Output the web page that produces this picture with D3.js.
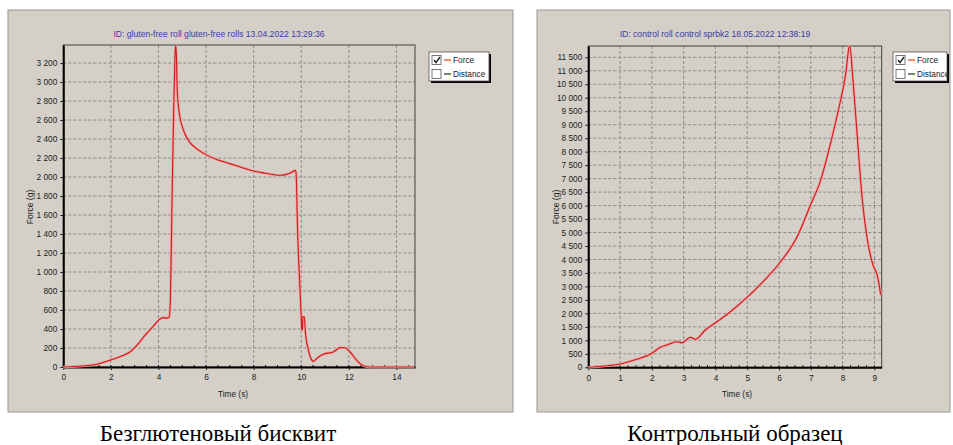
<!DOCTYPE html>
<meta charset="utf-8">
<style>
  body { margin: 0; background: #fff; }
  text { font-family: 'Liberation Sans', Arial, sans-serif; }
</style>
<body>
<script src="https://d3js.org/d3.v7.min.js"></script>
<script>

// left chart: gluten-free roll
var leftTitle = "ID: gluten-free roll  gluten-free rolls 13.04.2022 13:29:36";
var leftCaption = "Безглютеновый бисквит";
var leftTime  = [0, 0.5, 1, 1.5, 2, 2.5, 2.8, 3.1, 3.43, 3.78, 4.06, 4.2, 4.35, 4.45, 4.5, 4.56, 4.63, 4.69, 4.72, 4.75, 4.79, 4.85, 4.9, 5.0, 5.11, 5.3, 5.6, 6.05, 6.5, 7.0, 7.5, 8.05, 8.5, 9.1, 9.38, 9.6, 9.74, 9.78, 9.85, 9.95, 10.0, 10.02, 10.05, 10.07, 10.13, 10.17, 10.3, 10.45, 10.5, 10.7, 10.92, 11.34, 11.5, 11.63, 11.84, 12.05, 12.3, 12.47, 12.75, 13.0, 14.75];
var leftForce = [0, 5, 15, 35, 75, 120, 158, 230, 333, 428, 505, 520, 515, 525, 700, 1600, 2600, 3250, 3390, 3300, 2900, 2720, 2630, 2530, 2456, 2370, 2299, 2228, 2180, 2141, 2100, 2060, 2040, 2018, 2028, 2050, 2070, 2050, 1400, 800, 530, 400, 390, 530, 525, 380, 180, 70, 60, 100, 134, 158, 185, 204, 202, 158, 80, 36, 3, 0, 0];
var leftXTicks = [0, 2, 4, 6, 8, 10, 12, 14];
var leftYTicks = d3.range(0, 3201, 200);

// right chart: control roll
var rightTitle = "ID: control roll control sprbk2 18.05.2022 12:38:19";
var rightCaption = "Контрольный образец";
var rightTime  = [0, 0.53, 1.0, 1.52, 2.0, 2.26, 2.47, 2.79, 2.95, 3.21, 3.37, 3.68, 4.05, 4.47, 5.0, 5.5, 6.05, 6.57, 6.99, 7.31, 7.62, 7.89, 8.1, 8.2, 8.23, 8.31, 8.47, 8.62, 8.78, 8.94, 9.1, 9.2];
var rightForce = [0, 48, 122, 296, 519, 741, 827, 950, 912, 1113, 1039, 1384, 1691, 2062, 2600, 3180, 3917, 4844, 6020, 6947, 8309, 9666, 10905, 11850, 11920, 10905, 8432, 6206, 4722, 3858, 3363, 2682];
var rightXTicks = d3.range(0, 10, 1);
var rightYTicks = d3.range(0, 11501, 500);

var fmt = function(d) { return d3.format(",")(d).replace(/,/g, " "); };

var svg = d3.select("body").append("svg")
    .attr("width", 953)
    .attr("height", 445);

function drawPanel(p) {
  var g = svg.append("g");

  // grey window background
  g.append("rect")
      .attr("x", p.box[0]).attr("y", p.box[1])
      .attr("width", p.box[2] - p.box[0]).attr("height", p.box[3] - p.box[1])
      .attr("fill", "#d4d0c8")
      .attr("stroke", "#9a9892").attr("stroke-width", 1);

  var x = d3.scaleLinear().domain(p.xDomain).range([p.plot[0], p.plot[2]]);
  var y = d3.scaleLinear().domain(p.yDomain).range([p.plot[3], p.plot[1]]);

  // grid
  g.selectAll(".gx").data(p.xTicks.filter(function(d) { return d > 0; }))
    .enter().append("line")
      .attr("x1", function(d) { return x(d); }).attr("x2", function(d) { return x(d); })
      .attr("y1", p.plot[1]).attr("y2", p.plot[3])
      .attr("stroke", "#8a8a8a").attr("stroke-dasharray", "3,2");
  g.selectAll(".gy").data(p.yTicks.filter(function(d) { return d > 0; }))
    .enter().append("line")
      .attr("x1", p.plot[0]).attr("x2", p.plot[2])
      .attr("y1", function(d) { return y(d); }).attr("y2", function(d) { return y(d); })
      .attr("stroke", "#8a8a8a").attr("stroke-dasharray", "3,2");

  // frame (top/right thin)
  g.append("rect")
      .attr("x", p.plot[0]).attr("y", p.plot[1])
      .attr("width", p.plot[2] - p.plot[0]).attr("height", p.plot[3] - p.plot[1])
      .attr("fill", "none").attr("stroke", "#404040").attr("stroke-width", 1);

  // axes
  var xa = g.append("g")
      .attr("transform", "translate(0," + p.plot[3] + ")")
      .call(d3.axisBottom(x).tickValues(p.xTicks).tickSize(3).tickSizeOuter(0).tickFormat(d3.format("d")));
  var ya = g.append("g")
      .attr("transform", "translate(" + p.plot[0] + ",0)")
      .call(d3.axisLeft(y).tickValues(p.yTicks).tickSize(3).tickSizeOuter(0).tickFormat(fmt));
  [xa, ya].forEach(function(a) {
    a.select(".domain").attr("stroke", "#000").attr("stroke-width", 2);
    a.selectAll("text").attr("font-size", "8.3px").attr("fill", "#222");
    a.selectAll("line").attr("stroke", "#222");
  });
  xa.selectAll("text").attr("dy", "0.9em");

  // minor ticks on x axis
  g.selectAll(".mx").data(d3.range(p.xDomain[0], p.xDomain[1], p.xMinor))
    .enter().append("line")
      .attr("x1", function(d) { return x(d); }).attr("x2", function(d) { return x(d); })
      .attr("y1", p.plot[3] - 2).attr("y2", p.plot[3] + 1)
      .attr("stroke", "#000");

  // force curve
  var line = d3.line()
      .curve(d3.curveMonotoneX)
      .x(function(d, i) { return x(p.time[i]); })
      .y(function(d) { return y(d); });
  g.append("path").datum(p.force)
      .attr("d", line).attr("fill", "none")
      .attr("stroke", "#f2a0a0").attr("stroke-width", 2.6);
  g.append("path").datum(p.force)
      .attr("d", line).attr("fill", "none")
      .attr("stroke", "#cc1a1a").attr("stroke-width", 1.1);

  // title
  g.append("text")
      .attr("x", p.titleX).attr("y", 37)
      .attr("text-anchor", "middle").attr("font-size", "8.6px")
      .attr("fill", "#3a3aa8").text(p.title);

  // axis labels
  g.append("text")
      .attr("x", p.xLabelX).attr("y", 397)
      .attr("text-anchor", "middle").attr("font-size", "8.3px")
      .attr("fill", "#222").text("Time (s)");
  g.append("text")
      .attr("transform", "translate(" + p.yLabelX + ",207) rotate(-90)")
      .attr("text-anchor", "middle").attr("font-size", "8.5px")
      .attr("fill", "#222").text("Force (g)");

  // legend
  var lg = g.append("g").attr("transform", "translate(" + p.legend[0] + "," + p.legend[1] + ")");
  lg.append("rect").attr("x", 2).attr("y", 2).attr("width", p.legend[2]).attr("height", 29).attr("fill", "#000");
  lg.append("rect").attr("x", 0).attr("y", 0).attr("width", p.legend[2]).attr("height", 29)
      .attr("fill", "#fff").attr("stroke", "#555").attr("stroke-width", 0.8);
  [{name: "Force", color: "#cc1a1a", on: true, yy: 8}, {name: "Distance", color: "#000", on: false, yy: 22}]
    .forEach(function(it) {
      lg.append("rect").attr("x", 3).attr("y", it.yy - 4.5).attr("width", 9).attr("height", 9)
          .attr("fill", "#fff").attr("stroke", "#555").attr("stroke-width", 0.8);
      if (it.on) {
        lg.append("path").attr("d", "M5," + (it.yy) + " L7," + (it.yy + 2.5) + " L11," + (it.yy - 3))
            .attr("fill", "none").attr("stroke", "#222").attr("stroke-width", 1.4);
      }
      lg.append("line").attr("x1", 15).attr("x2", 22).attr("y1", it.yy).attr("y2", it.yy)
          .attr("stroke", it.color).attr("stroke-width", 1);
      lg.append("text").attr("x", 24).attr("y", it.yy + 3)
          .attr("font-size", "8.3px").attr("fill", "#222").text(it.name);
    });

  // caption below
  svg.append("text")
      .attr("x", p.captionX).attr("y", 441)
      .attr("text-anchor", "middle")
      .style("font-family", "'Liberation Serif', 'Times New Roman', serif")
      .attr("font-size", "23px").attr("fill", "#000")
      .text(p.caption);
}

drawPanel({
  box: [8, 10, 513, 412], plot: [63.3, 45, 415, 367],
  xDomain: [0, 14.78], yDomain: [0, 3390], xTicks: leftXTicks, yTicks: leftYTicks, xMinor: 0.5,
  time: leftTime, force: leftForce, title: leftTitle, caption: leftCaption,
  titleX: 219, xLabelX: 233, yLabelX: 33, legend: [429, 52, 60], captionX: 218
});

drawPanel({
  box: [537, 10, 950, 412], plot: [588.3, 46, 881.7, 367.3],
  xDomain: [0, 9.23], yDomain: [0, 11920], xTicks: rightXTicks, yTicks: rightYTicks, xMinor: 0.25,
  time: rightTime, force: rightForce, title: rightTitle, caption: rightCaption,
  titleX: 715, xLabelX: 737, yLabelX: 559, legend: [893, 52, 54], captionX: 735
});

</script>
</body>
